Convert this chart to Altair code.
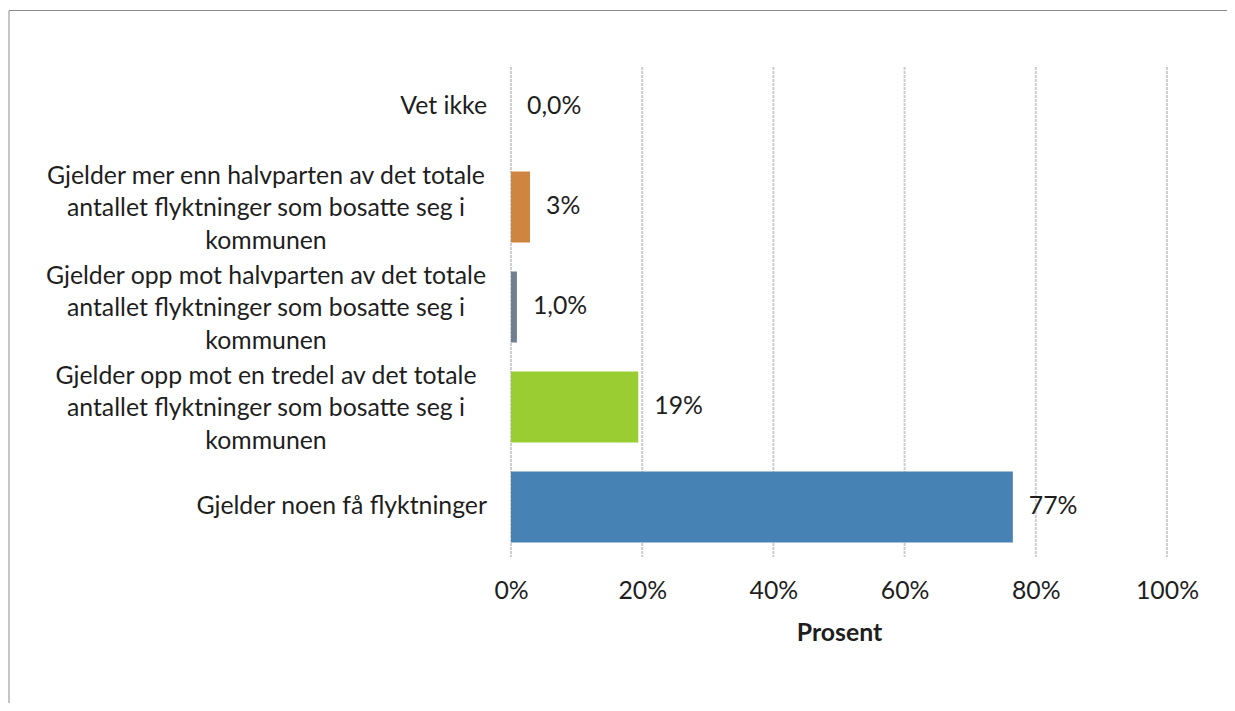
import altair as alt
import pandas as pd

categories = [
    "Vet ikke",
    "Gjelder mer enn halvparten av det totale|antallet flyktninger som bosatte seg i|kommunen",
    "Gjelder opp mot halvparten av det totale|antallet flyktninger som bosatte seg i|kommunen",
    "Gjelder opp mot en tredel av det totale|antallet flyktninger som bosatte seg i|kommunen",
    "Gjelder noen få flyktninger",
]
values = [0.0, 2.9, 0.9, 19.4, 76.5]
value_labels = ["0,0%", "3%", "1,0%", "19%", "77%"]
colors = ["#ffffff", "#CD853F", "#708090", "#9ACD32", "#4682B4"]
x_ticks = [0, 20, 40, 60, 80, 100]

df = pd.DataFrame({
    "cat": categories, "val": values, "lab": value_labels, "col": colors,
    "multi": ["|" in c for c in categories],
})
ticks_df = pd.DataFrame({"t": x_ticks})

FONT = "Lato"
FS = 24.8
TXT = "#1e1e1e"

y_enc = alt.Y(
    "cat:N",
    sort=categories,
    scale=alt.Scale(paddingInner=0.29, paddingOuter=0.145),
    axis=None,
)
x_scale = alt.Scale(domain=[0, 100], nice=False)
x_enc = alt.X(
    "val:Q",
    scale=x_scale,
    axis=alt.Axis(
        title="Prosent", values=x_ticks, labelExpr="datum.value + '%'",
        ticks=False, domain=False, grid=False, labelFlush=False,
        labelFont=FONT, labelFontSize=FS, labelColor=TXT, labelPadding=21,
        titleFont=FONT, titleFontSize=FS, titleFontWeight="bold", titleColor=TXT,
        titlePadding=18,
    ),
)

grid = alt.Chart(ticks_df).mark_rule(
    color="#cdcdcd", strokeWidth=2, strokeDash=[3, 1]
).encode(
    x=alt.X("t:Q", scale=x_scale), y=alt.value(10), y2=alt.value(500)
)

bars = alt.Chart(df).mark_bar().encode(
    x=x_enc, y=y_enc, color=alt.Color("col:N", scale=None, legend=None)
)
texts = alt.Chart(df).mark_text(
    align="left", baseline="middle", dx=16, font=FONT, fontSize=FS, color=TXT
).encode(x="val:Q", y=alt.Y("cat:N", sort=categories), text="lab:N")

single_labels = alt.Chart(df).transform_filter("!datum.multi").mark_text(
    align="right", baseline="middle", font=FONT, fontSize=FS, color=TXT
).encode(x=alt.value(-24), y=alt.Y("cat:N", sort=categories), text="cat:N")

multi_labels = alt.Chart(df).transform_filter("datum.multi").mark_text(
    align="center", baseline="middle", font=FONT, fontSize=FS, color=TXT,
    lineBreak="|", lineHeight=32.5, dy=-30.5
).encode(x=alt.value(-245), y=alt.Y("cat:N", sort=categories), text="cat:N")

frame = alt.Chart(pd.DataFrame({"k": [0]})).mark_rect(
    fill=None, stroke="#8c8c8c", strokeWidth=1
).encode(
    x=alt.value(-502), x2=alt.value(760), y=alt.value(-46.5), y2=alt.value(700)
)

chart = alt.layer(frame, grid, bars, texts, single_labels, multi_labels).properties(
    width=656, height=500,
    autosize=alt.AutoSizeParams(type="none"),
    padding={"left": 503, "top": 49, "right": 60, "bottom": 146},
).configure(background="white").configure_view(strokeWidth=0)

chart.save("out.html", embed_options={"renderer": "svg", "actions": False})
